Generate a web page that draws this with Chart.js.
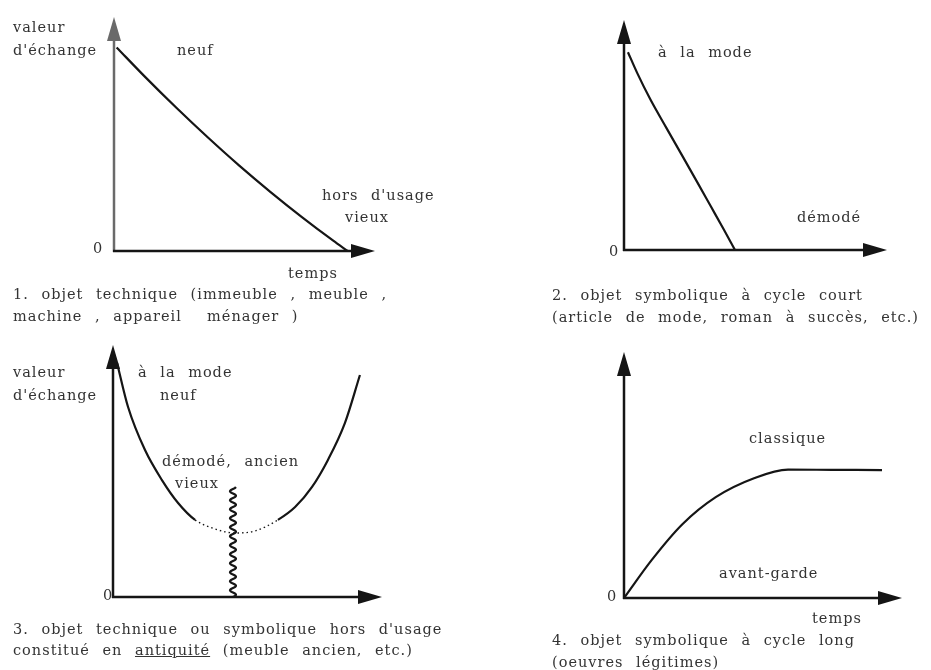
<!DOCTYPE html>
<html lang="fr">
<head>
<meta charset="utf-8">
<title>Valeur d'échange et temps</title>
<script src="https://cdn.jsdelivr.net/npm/chart.js@4.4.1/dist/chart.umd.min.js"></script>
<style>
  html, body { margin: 0; padding: 0; background: #fff; }
  #page { position: relative; width: 931px; height: 670px; overflow: hidden; }
  canvas { position: absolute; }
  .t {
    position: absolute;
    font-family: "DejaVu Serif", serif;
    font-size: 14.5px;
    letter-spacing: 1px;
    word-spacing: 7px;
    line-height: 16px;
    color: #333;
    white-space: pre;
  }
</style>
</head>
<body>
<div id="page">
  <canvas id="c1" width="465" height="335" style="left:0;top:0"></canvas>
  <canvas id="c2" width="466" height="335" style="left:465px;top:0"></canvas>
  <canvas id="c3" width="465" height="335" style="left:0;top:335px"></canvas>
  <canvas id="c4" width="466" height="335" style="left:465px;top:335px"></canvas>

  <!-- 1 -->
  <div class="t" style="left:13px;top:19px">valeur</div>
  <div class="t" style="left:13px;top:42px">d'échange</div>
  <div class="t" style="left:177px;top:42px">neuf</div>
  <div class="t" style="left:93px;top:240px">0</div>
  <div class="t" style="left:322px;top:187px">hors d'usage</div>
  <div class="t" style="left:345px;top:209px">vieux</div>
  <div class="t" style="left:288px;top:265px">temps</div>
  <div class="t" style="left:13px;top:286px">1. objet technique (immeuble , meuble ,</div>
  <div class="t" style="left:13px;top:308px">machine , appareil  ménager )</div>

  <!-- 2 -->
  <div class="t" style="left:658px;top:44px">à la mode</div>
  <div class="t" style="left:797px;top:209px">démodé</div>
  <div class="t" style="left:609px;top:243px">0</div>
  <div class="t" style="left:552px;top:287px">2. objet symbolique à cycle court</div>
  <div class="t" style="left:552px;top:309px">(article de mode, roman à succès, etc.)</div>

  <!-- 3 -->
  <div class="t" style="left:13px;top:364px">valeur</div>
  <div class="t" style="left:13px;top:387px">d'échange</div>
  <div class="t" style="left:138px;top:364px">à la mode</div>
  <div class="t" style="left:160px;top:387px">neuf</div>
  <div class="t" style="left:162px;top:453px">démodé, ancien</div>
  <div class="t" style="left:175px;top:475px">vieux</div>
  <div class="t" style="left:103px;top:587px">0</div>
  <div class="t" style="left:13px;top:621px">3. objet technique ou symbolique hors d'usage</div>
  <div class="t" style="left:13px;top:642px">constitué en <u>antiquité</u> (meuble ancien, etc.)</div>

  <!-- 4 -->
  <div class="t" style="left:749px;top:430px">classique</div>
  <div class="t" style="left:719px;top:565px">avant-garde</div>
  <div class="t" style="left:607px;top:588px">0</div>
  <div class="t" style="left:812px;top:610px">temps</div>
  <div class="t" style="left:552px;top:632px">4. objet symbolique à cycle long</div>
  <div class="t" style="left:552px;top:654px">(oeuvres légitimes)</div>
</div>

<script>
// 1. objet technique : valeur d'échange qui décroît jusqu'à zéro
const techX = [1, 12, 24, 36, 48, 60, 72, 84, 89.5];
const techY = [87, 74.3, 61.1, 48.5, 36.5, 25.2, 14.5, 4.4, 0];

// 2. objet symbolique à cycle court
const courtX = [1.5, 5, 10, 16, 22.4, 28, 33, 38, 42.2];
const courtY = [86, 77, 65.5, 53.3, 40.5, 29.2, 19, 8.8, 0];

// 3. antiquité : chute puis remontée (partie pointillée autour du minimum)
const antiqX = [1.5, 5.6, 11.9, 18.2, 24.2, 30.5, 36.8, 45.4, 52.8, 61.3, 67.7, 74, 79.9, 86.2, 91.8];
const antiqY = [92.9, 75.4, 58.3, 46.4, 37.3, 30.6, 27.4, 25.4, 26.2, 30.6, 35.7, 43.7, 54.4, 69, 88.1];
const antiqDotted = [30, 62];
const antiqWavyX = 44.6;
const antiqWavyTop = 43.7;

// 4. objet symbolique à cycle long
const longX = [0, 10, 21, 33, 47, 59, 75, 92.8];
const longY = [0, 15.5, 30, 41, 48.8, 52.2, 52.1, 52];

const INK = '#151515';

function pts(xs, ys) {
    return xs.map((x, i) => ({ x: x, y: ys[i] }));
}

// axes with arrowheads + optional wavy vertical line
const arrowAxes = {
    id: 'arrowAxes',
    beforeDatasetsDraw(chart, args, opts) {
        const { ctx, chartArea: a, scales: { x, y } } = chart;
        const ox = x.getPixelForValue(0);
        const oy = y.getPixelForValue(0);
        const len = 24, half = 7;
        ctx.save();
        ctx.lineWidth = 2.5;
        ctx.lineCap = 'butt';

        // vertical axis
        ctx.strokeStyle = opts.yColor || INK;
        ctx.fillStyle = opts.yColor || INK;
        ctx.beginPath();
        ctx.moveTo(ox, oy + 1);
        ctx.lineTo(ox, a.top + len - 2);
        ctx.stroke();
        ctx.beginPath();
        ctx.moveTo(ox, a.top);
        ctx.lineTo(ox - half, a.top + len);
        ctx.lineTo(ox + half, a.top + len);
        ctx.closePath();
        ctx.fill();

        // horizontal axis
        ctx.strokeStyle = INK;
        ctx.fillStyle = INK;
        ctx.beginPath();
        ctx.moveTo(ox - 1, oy);
        ctx.lineTo(a.right - len + 2, oy);
        ctx.stroke();
        ctx.beginPath();
        ctx.moveTo(a.right, oy);
        ctx.lineTo(a.right - len, oy - half);
        ctx.lineTo(a.right - len, oy + half);
        ctx.closePath();
        ctx.fill();
        ctx.restore();
    },
    afterDatasetsDraw(chart, args, opts) {
        if (opts.wavyX === undefined) return;
        const { ctx, scales: { x, y } } = chart;
        const px = x.getPixelForValue(opts.wavyX);
        const y0 = y.getPixelForValue(0);
        const y1 = y.getPixelForValue(opts.wavyTop);
        ctx.save();
        ctx.strokeStyle = INK;
        ctx.lineWidth = 2.2;
        ctx.beginPath();
        for (let py = y0; py >= y1; py -= 0.5) {
            const dx = 3 * Math.sin((y0 - py) / 9 * 2 * Math.PI);
            if (py === y0) ctx.moveTo(px + dx, py);
            else ctx.lineTo(px + dx, py);
        }
        ctx.stroke();
        ctx.restore();
    }
};

function makeChart(id, data, pad, extra) {
    const ds = Object.assign({
        data: data,
        borderColor: INK,
        borderWidth: 2.2,
        pointRadius: 0,
        pointHoverRadius: 0,
        fill: false,
        cubicInterpolationMode: 'monotone'
    }, extra.dataset || {});
    return new Chart(document.getElementById(id), {
        type: 'line',
        data: { datasets: [ds] },
        options: {
            responsive: false,
            animation: false,
            events: [],
            layout: { padding: pad },
            scales: {
                x: { type: 'linear', min: 0, max: 100, display: false },
                y: { type: 'linear', min: 0, max: 100, display: false }
            },
            plugins: {
                legend: { display: false },
                tooltip: { enabled: false },
                arrowAxes: extra.axes || {}
            }
        },
        plugins: [arrowAxes]
    });
}

const inDotted = ctx => ctx.p0.parsed.x >= antiqDotted[0] && ctx.p1.parsed.x <= antiqDotted[1];

makeChart('c1', pts(techX, techY), { left: 114, top: 17, right: 90, bottom: 84 }, { axes: { yColor: '#6a6a6a' } });
makeChart('c2', pts(courtX, courtY), { left: 159, top: 20, right: 44, bottom: 85 }, {});
makeChart('c3', pts(antiqX, antiqY), { left: 113, top: 10, right: 83, bottom: 73 }, {
    axes: { wavyX: antiqWavyX, wavyTop: antiqWavyTop },
    dataset: {
        segment: {
            borderDash: ctx => inDotted(ctx) ? [1.5, 3] : undefined,
            borderWidth: ctx => inDotted(ctx) ? 1.4 : undefined
        }
    }
});
makeChart('c4', pts(longX, longY), { left: 159, top: 17, right: 29, bottom: 72 }, {});
</script>
</body>
</html>
